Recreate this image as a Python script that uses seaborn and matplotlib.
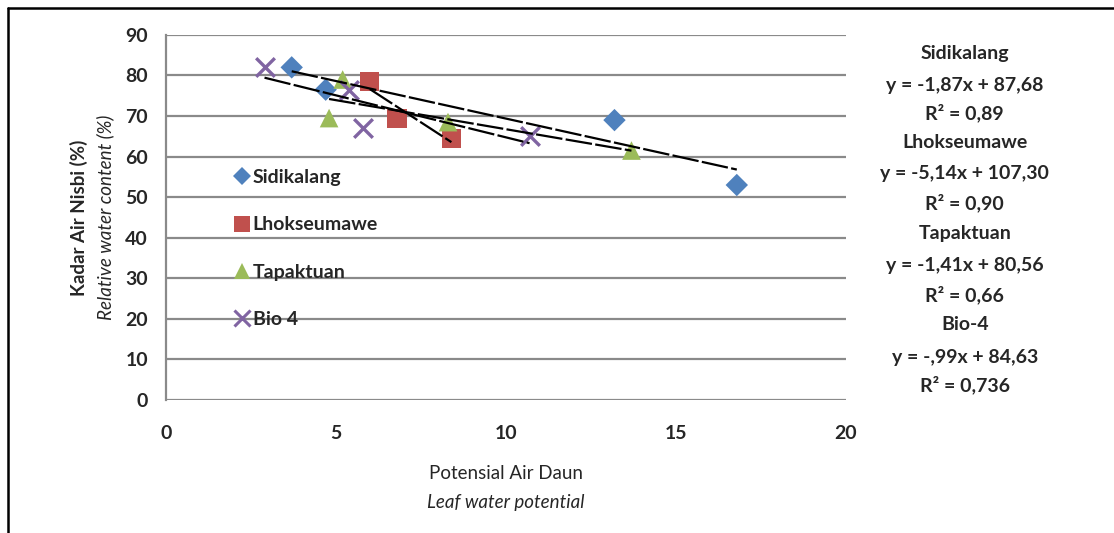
import numpy as np
import pandas as pd
import matplotlib
matplotlib.use("Agg")
import matplotlib.pyplot as plt
import seaborn as sns
from matplotlib.lines import Line2D

# data
sid_x = [3.7, 4.7, 13.2, 16.8]
sid_y = [82.0, 76.5, 69.0, 53.0]
lho_x = [6.0, 6.8, 8.4]
lho_y = [78.5, 69.5, 64.5]
tap_x = [4.8, 5.2, 8.3, 13.7]
tap_y = [69.5, 79.0, 68.5, 61.5]
bio_x = [2.9, 5.4, 5.8, 10.7]
bio_y = [82.0, 76.5, 67.0, 65.0]

names = ["Sidikalang", "Lhokseumawe", "Tapaktuan", "Bio-4"]
legend_names = ["Sidikalang", "Lhokseumawe", "Tapaktuan", "Bio 4"]
eq_lines = [
    "y = -1,87x + 87,68", "R² = 0,89",
    "y = -5,14x + 107,30", "R² = 0,90",
    "y = -1,41x + 80,56", "R² = 0,66",
    "y = -,99x + 84,63", "R² = 0,736",
]
x_ticks = [0, 5, 10, 15, 20]
y_ticks = [0, 10, 20, 30, 40, 50, 60, 70, 80, 90]

sns.set_style("white")
plt.rcParams['font.family'] = ['Lato', 'DejaVu Sans']

series = [(sid_x, sid_y, "D", "#4F81BD", 130),
          (lho_x, lho_y, "s", "#C0504D", 190),
          (tap_x, tap_y, "^", "#9BBB59", 180),
          (bio_x, bio_y, "x", "#8064A2", 180)]

fig = plt.figure(figsize=(11.14, 5.33), dpi=100)
ax = fig.add_axes([0.149, 0.2495, 0.61, 0.685])

handles = []
for (xs, ys, mk, col, sz), nm in zip(series, legend_names):
    df = pd.DataFrame({"x": xs, "y": ys})
    if mk == "x":
        sns.scatterplot(data=df, x="x", y="y", marker="x", color=col, s=sz,
                        linewidth=2.4, ax=ax, zorder=3)
    else:
        sns.scatterplot(data=df, x="x", y="y", marker=mk, color=col, s=sz,
                        edgecolor="none", ax=ax, zorder=3)
    sns.regplot(data=df, x="x", y="y", scatter=False, ci=None, truncate=True,
                color="black", ax=ax,
                line_kws={"linewidth": 1.6, "linestyle": (0, (12, 1.5)), "zorder": 4})
    if mk == "x":
        handles.append(Line2D([], [], marker="x", color=col, linestyle="none",
                              markersize=12, markeredgewidth=2.2))
    else:
        handles.append(Line2D([], [], marker=mk, color=col, linestyle="none",
                              markersize=12 if mk != "D" else 9, markeredgewidth=0))

ax.set_xlim(0, 20)
ax.set_ylim(0, 90)
ax.set_xticks(x_ticks)
ax.set_yticks(y_ticks)
ax.set_xlabel("")
ax.set_ylabel("")
ax.grid(axis="y", color="#8a8a8a", linewidth=1.6)
ax.grid(axis="x", visible=False)
ax.set_axisbelow(True)
for s in ["top", "right", "bottom"]:
    ax.spines[s].set_visible(False)
ax.spines["left"].set_color("#8a8a8a")
ax.spines["left"].set_linewidth(1.6)
ax.tick_params(axis="y", direction="out", length=5, width=1.6, color="#8a8a8a",
               pad=8, labelsize=14)
ax.tick_params(axis="x", direction="out", length=5, width=1.6, color="#8a8a8a",
               pad=13, labelsize=14)
for lb in ax.get_yticklabels() + ax.get_xticklabels():
    lb.set_fontweight("bold")

leg = ax.legend(handles, legend_names, loc="upper left",
                bbox_to_anchor=(0.072, 0.68), frameon=False,
                prop={"size": 14, "weight": "bold"}, handletextpad=0.05,
                handlelength=1.0, labelspacing=1.55)

# y label (two lines) and x label (two lines)
fig.text(0.071, 0.592, "Kadar Air Nisbi (%)", rotation=90, ha="center", va="center",
         fontsize=13.5, fontweight="bold")
fig.text(0.094, 0.592, "Relative water content (%)", rotation=90, ha="center",
         va="center", fontsize=13.5, style="italic")
fig.text(0.454, 0.111, "Potensial Air Daun", ha="center", va="center", fontsize=13.5)
fig.text(0.454, 0.058, "Leaf water potential", ha="center", va="center",
         fontsize=13.5, style="italic")

# equations on the right
ys_fig = [53, 85, 113, 143, 174, 203, 233, 266, 295, 325, 357, 385]
lines = []
for i, nm in enumerate(names):
    lines.append(nm)
    lines.append(eq_lines[2 * i])
    lines.append(eq_lines[2 * i + 1])
for txt, yp in zip(lines, ys_fig):
    fig.text(0.866, 1 - yp / 533, txt, ha="center", va="center", fontsize=14,
             fontweight="bold")

# outer frame (left and top edges)
fig.add_artist(Line2D([0.007, 0.007], [0, 0.985], color="black", linewidth=1.8,
                      transform=fig.transFigure))
fig.add_artist(Line2D([0.007, 1.0], [0.985, 0.985], color="black", linewidth=1.8,
                      transform=fig.transFigure))

fig.savefig("out.png", dpi=100)
